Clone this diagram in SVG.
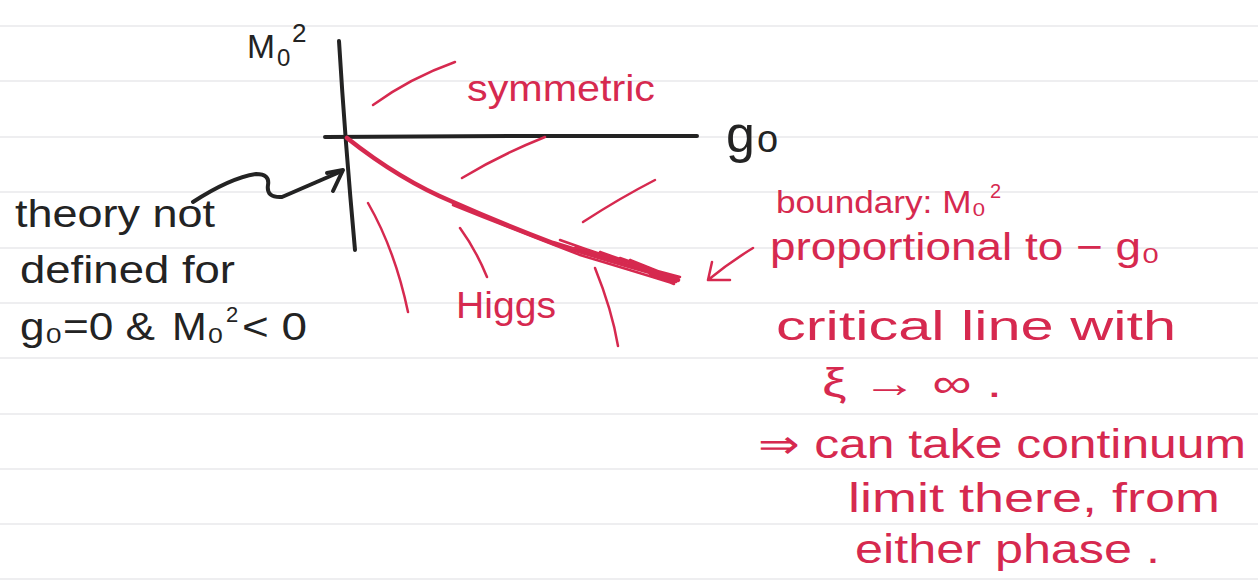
<svg xmlns="http://www.w3.org/2000/svg" width="1258" height="583" viewBox="0 0 1258 583">
<style>
.rule{stroke:#e9e9eb;stroke-width:1.5}
.ink{fill:none;stroke:#232323;stroke-width:4;stroke-linecap:round;stroke-linejoin:round}
.red{fill:none;stroke:#d6294f;stroke-width:2.5;stroke-linecap:round;stroke-linejoin:round}
.tb{font-family:"Liberation Sans",Arial,sans-serif;fill:#232323}
.tr{font-family:"Liberation Sans",Arial,sans-serif;fill:#d6294f}
</style>
<rect width="1258" height="583" fill="#ffffff"/>
<g id="paper">
<line class="rule" x1="0" y1="26" x2="1258" y2="26"/>
<line class="rule" x1="0" y1="81" x2="1258" y2="81"/>
<line class="rule" x1="0" y1="137" x2="1258" y2="137"/>
<line class="rule" x1="0" y1="192" x2="1258" y2="192"/>
<line class="rule" x1="0" y1="248" x2="1258" y2="248"/>
<line class="rule" x1="0" y1="303" x2="1258" y2="303"/>
<line class="rule" x1="0" y1="358" x2="1258" y2="358"/>
<line class="rule" x1="0" y1="414" x2="1258" y2="414"/>
<line class="rule" x1="0" y1="469" x2="1258" y2="469"/>
<line class="rule" x1="0" y1="524" x2="1258" y2="524"/>
<line class="rule" x1="0" y1="579" x2="1258" y2="579"/>
</g>
<g id="axes">
<path class="ink" d="M339 41 Q345 140 355 250"/>
<path class="ink" d="M325 137 L520 136 L697 136"/>
<text class="tb" x="247" y="58" font-size="34" textLength="28" lengthAdjust="spacingAndGlyphs">M</text>
<text class="tb" x="277" y="66" font-size="24">0</text>
<text class="tb" x="292" y="42" font-size="26">2</text>
<text class="tb" x="726" y="152" font-size="52">g</text>
<text class="tb" x="757" y="152" font-size="38">o</text>
</g>
<g id="boundary">
<path d="M347 138 Q400 180 453 202 Q505 225 553 243 Q620 264 678 280" fill="none" stroke="#d6294f" stroke-width="4.5" stroke-linecap="round"/>
<path class="red" d="M453 205 Q520 232 580 255 Q630 270 672 283 M560 240 Q620 262 680 277 M575 248 L640 266 L600 252 L676 282 M620 258 L660 272 L630 260 L668 276 M640 268 L678 279 L650 274 L674 284"/>
</g>
<g id="hatching">
<path class="red" d="M373 105 Q410 78 455 62"/>
<path class="red" d="M462 178 Q500 155 545 137"/>
<path class="red" d="M583 222 Q620 198 655 180"/>
<path class="red" d="M368 203 Q395 250 408 312"/>
<path class="red" d="M460 228 Q476 250 487 277"/>
<path class="red" d="M595 268 Q612 310 618 346"/>
<text class="tr" x="467" y="101" font-size="36" textLength="188" lengthAdjust="spacingAndGlyphs">symmetric</text>
<text class="tr" x="456" y="318" font-size="36" textLength="100" lengthAdjust="spacingAndGlyphs">Higgs</text>
</g>
<g id="note-left">
<path class="ink" d="M193 202 Q230 178 256 174 Q270 174 268 185 Q266 198 282 197 Q310 185 342 171" stroke-width="3.5"/>
<path class="ink" d="M327 173 L343 170 L333 191" stroke-width="3.5"/>
<text class="tb" x="15" y="227" font-size="38" textLength="200" lengthAdjust="spacingAndGlyphs">theory not</text>
<text class="tb" x="20" y="283" font-size="38" textLength="215" lengthAdjust="spacingAndGlyphs">defined for</text>
<text class="tb" x="20" y="340" font-size="38" textLength="135" lengthAdjust="spacingAndGlyphs">g₀=0 &amp;</text>
<text class="tb" x="172" y="340" font-size="38" textLength="52" lengthAdjust="spacingAndGlyphs">M₀</text>
<text class="tb" x="226" y="322" font-size="22">2</text>
<text class="tb" x="242" y="340" font-size="38" textLength="65" lengthAdjust="spacingAndGlyphs">&lt; 0</text>
</g>
<g id="note-right">
<path class="red" d="M753 248 Q730 262 708 280 M712 262 L708 280 L730 280"/>
<text class="tr" x="776" y="213" font-size="32" textLength="210" lengthAdjust="spacingAndGlyphs">boundary: M₀</text>
<text class="tr" x="990" y="198" font-size="20">2</text>
<text class="tr" x="770" y="260" font-size="38" textLength="390" lengthAdjust="spacingAndGlyphs">proportional to − g₀</text>
<text class="tr" x="776" y="340" font-size="40" textLength="400" lengthAdjust="spacingAndGlyphs">critical line with</text>
<text class="tr" x="822" y="397" font-size="40" textLength="180" lengthAdjust="spacingAndGlyphs">ξ → ∞ .</text>
<text class="tr" x="758" y="458" font-size="40" textLength="488" lengthAdjust="spacingAndGlyphs">⇒ can take continuum</text>
<text class="tr" x="848" y="512" font-size="40" textLength="372" lengthAdjust="spacingAndGlyphs">limit there, from</text>
<text class="tr" x="855" y="563" font-size="40" textLength="305" lengthAdjust="spacingAndGlyphs">either phase .</text>
</g>
</svg>
